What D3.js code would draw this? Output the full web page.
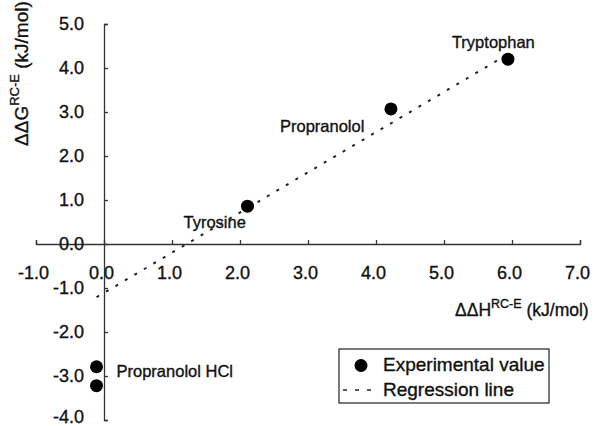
<!DOCTYPE html>
<html>
<head>
<meta charset="utf-8">
<script src="https://cdn.jsdelivr.net/npm/d3@7"></script>
<style>
  body { margin: 0; background: #fff; }
  svg { font-family: "Liberation Sans", Arial, sans-serif; }
  svg text { stroke: #111; stroke-width: 0.35; }
  .axis path, .axis line { stroke: #333; stroke-width: 1.3; }
  .axis text { fill: #111; font-size: 18px; }
</style>
</head>
<body>
<svg id="chart" width="597" height="426"></svg>
<script>
// values
const compounds = ["Tryptophan", "Propranolol", "Tyrosine", "Propranolol HCl", ""]
const deltaH = [5.94, 4.22, 2.11, -0.11, -0.11]   // ΔΔH RC-E (kJ/mol)
const deltaG = [4.20, 3.07, 0.86, -2.79, -3.22]   // ΔΔG RC-E (kJ/mol)
// regression line end points
const regH = [-0.11, 5.87]
const regG = [-1.21, 4.25]
const xTicks = [-1, 0, 1, 2, 3, 4, 5, 6, 7]
const yTicks = [-4, -3, -2, -1, 0, 1, 2, 3, 4, 5]
const legendItems = ["Experimental value", "Regression line"]

const svg = d3.select("#chart")

const x = d3.scaleLinear().domain([-1, 7]).range([36, 580])
const y = d3.scaleLinear().domain([-4, 5]).range([420, 24])

// x axis: ticks pointing up, labels below
const xAxis = d3.axisBottom(x)
  .tickValues(xTicks)
  .tickFormat(d => d.toFixed(1))
  .tickSizeInner(-4)
  .tickSizeOuter(-4)
  .tickPadding(22)
const xg = svg.append("g").attr("class", "axis")
  .attr("transform", `translate(0,${y(0)})`)
  .call(xAxis)
xg.selectAll("text").attr("dx", -3)

// y axis: ticks pointing right, labels on the left
const yAxis = d3.axisLeft(y)
  .tickValues(yTicks)
  .tickFormat(d => d.toFixed(1))
  .tickSizeInner(-4)
  .tickSizeOuter(-4)
  .tickPadding(20)
const yg = svg.append("g").attr("class", "axis")
  .attr("transform", `translate(${x(0)},0)`)
  .call(yAxis)
// keep the lowest label inside the picture
yg.selectAll(".tick text").filter(d => d === -4).attr("y", -3)

// regression line (dotted)
svg.append("line")
  .attr("x1", x(regH[0])).attr("y1", y(regG[0]))
  .attr("x2", x(regH[1])).attr("y2", y(regG[1]))
  .attr("stroke", "#222")
  .attr("stroke-width", 2)
  .attr("stroke-dasharray", "3,8")

// experimental points
const points = deltaH.map((h, i) => ({h: h, g: deltaG[i], name: compounds[i]}))
svg.append("g")
  .selectAll("circle")
  .data(points)
  .join("circle")
  .attr("cx", d => x(d.h))
  .attr("cy", d => y(d.g))
  .attr("r", 6.5)
  .attr("fill", "#000")

// point labels, offset from their point
const labelOffset = {
  "Tryptophan": [-56, -11],
  "Propranolol": [-111, 23],
  "Tyrosine": [-64, 22],
  "Propranolol HCl": [20, 10]
}
svg.append("g")
  .selectAll("text")
  .data(points.filter(d => d.name))
  .join("text")
  .attr("x", d => x(d.h) + labelOffset[d.name][0])
  .attr("y", d => y(d.g) + labelOffset[d.name][1])
  .attr("font-size", 16.5)
  .attr("fill", "#111")
  .text(d => d.name)

// axis titles
const yTitle = svg.append("text")
  .attr("transform", "translate(28,146) rotate(-90)")
  .attr("font-size", 19)
  .attr("fill", "#111")
yTitle.append("tspan").text("ΔΔG")
yTitle.append("tspan").attr("dy", -9).attr("font-size", 13).text("RC-E")
yTitle.append("tspan").attr("dy", 9).text(" (kJ/mol)")

const xTitle = svg.append("text")
  .attr("x", 455)
  .attr("y", 316)
  .attr("font-size", 17.5)
  .attr("fill", "#111")
xTitle.append("tspan").text("ΔΔH")
xTitle.append("tspan").attr("dy", -8).attr("font-size", 12.5).text("RC-E")
xTitle.append("tspan").attr("dy", 8).text(" (kJ/mol)")

// legend
const legend = svg.append("g")
legend.append("rect")
  .attr("x", 339).attr("y", 349)
  .attr("width", 210).attr("height", 54)
  .attr("fill", "#fff")
  .attr("stroke", "#333")
  .attr("stroke-width", 1.3)
legend.append("circle")
  .attr("cx", 361).attr("cy", 365.5)
  .attr("r", 6.5)
  .attr("fill", "#000")
legend.append("line")
  .attr("x1", 343).attr("x2", 373)
  .attr("y1", 390).attr("y2", 390)
  .attr("stroke", "#222")
  .attr("stroke-width", 1.5)
  .attr("stroke-dasharray", "4,8")
legend.selectAll("text.item")
  .data(legendItems)
  .join("text")
  .attr("class", "item")
  .attr("x", 383)
  .attr("y", (d, i) => 371 + i * 25)
  .attr("font-size", 19)
  .attr("fill", "#111")
  .text(d => d)
</script>
</body>
</html>
